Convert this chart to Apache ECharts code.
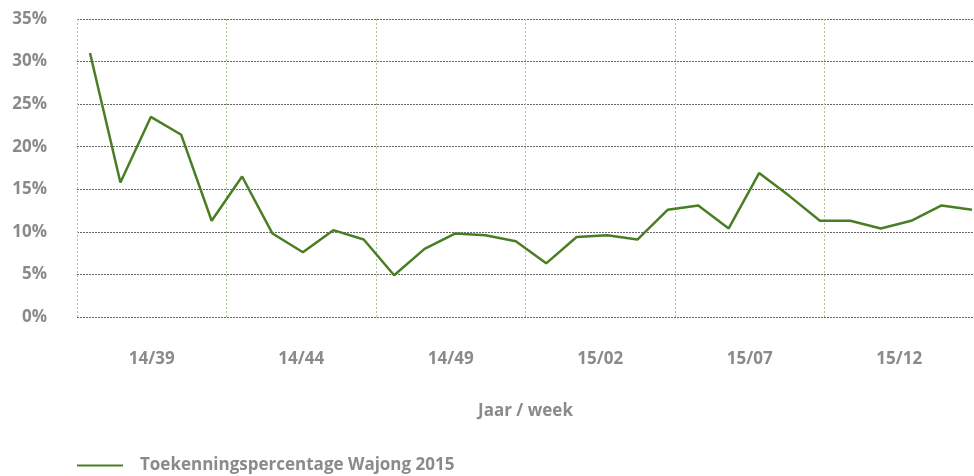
<!DOCTYPE html>
<html>
<head>
<meta charset="utf-8">
<title>Toekenningspercentage Wajong 2015</title>
<script src="https://cdn.jsdelivr.net/npm/echarts@6/dist/echarts.min.js"></script>
<style>
    html, body { margin: 0; padding: 0; background: #fff; }
    #line { width: 974px; height: 476px; }
</style>
</head>
<body>
<div id="line"></div>
<script>
// weken 14/37 t/m 15/14
const weeks = ['14/37','14/38','14/39','14/40','14/41','14/42','14/43','14/44','14/45','14/46',
               '14/47','14/48','14/49','14/50','14/51','14/52','15/01','15/02','15/03','15/04',
               '15/05','15/06','15/07','15/08','15/09','15/10','15/11','15/12','15/13','15/14'];
// toekenningspercentage (%)
const percentage = [31.0, 15.8, 23.5, 21.4, 11.3, 16.5, 9.8, 7.6, 10.2, 9.1,
                    4.9, 8.0, 9.8, 9.6, 8.9, 6.3, 9.4, 9.6, 9.1, 12.6,
                    13.1, 10.4, 16.9, 14.2, 11.3, 11.3, 10.4, 11.3, 13.1, 12.6];
const yTicks = [0, 5, 10, 15, 20, 25, 30, 35];

const grey = '#8a8a8a';
const labelFont = {
    color: grey,
    fontFamily: '"Open Sans", sans-serif',
    fontWeight: 'bold',
    fontSize: 17
};

const myChart = echarts.init(document.getElementById('line'));

let option = {
    animation: false,
    // grid 0: assen en rasterlijnen, grid 1: de lijn zelf
    grid: [
        { left: 77, right: 0, top: 19, bottom: 159 },
        { left: 90, right: 2, top: 19, bottom: 159 }
    ],
    legend: {
        left: 72,
        top: 452,
        icon: 'rect',
        itemWidth: 46,
        itemHeight: 2,
        textStyle: Object.assign({}, labelFont, { padding: [0, 0, 8, 12] }),
        data: ['Toekenningspercentage Wajong 2015']
    },
    xAxis: [{
        gridIndex: 0,
        type: 'category',
        boundaryGap: true,
        data: weeks,
        name: 'Jaar / week',
        nameLocation: 'middle',
        nameGap: 86,
        nameTextStyle: labelFont,
        axisLine: { show: false },
        axisTick: { show: false },
        axisLabel: Object.assign({}, labelFont, {
            margin: 34,
            interval: (i) => i % 5 === 2
        }),
        splitLine: {
            show: true,
            interval: (i) => i % 5 === 0,
            lineStyle: { color: '#a9c98f', width: 1, type: [2, 2] }
        }
    }, {
        gridIndex: 1,
        type: 'category',
        boundaryGap: false,
        data: weeks,
        show: false
    }],
    yAxis: [{
        gridIndex: 0,
        type: 'value',
        min: yTicks[0],
        max: yTicks[yTicks.length - 1],
        interval: 5,
        axisLine: { show: false },
        axisTick: { show: false },
        axisLabel: Object.assign({}, labelFont, {
            margin: 30,
            formatter: '{value}%'
        }),
        splitLine: {
            show: true,
            lineStyle: { color: '#666', width: 1, type: [2, 1] }
        }
    }, {
        gridIndex: 1,
        type: 'value',
        min: yTicks[0],
        max: yTicks[yTicks.length - 1],
        show: false
    }],
    series: [{
        name: 'Toekenningspercentage Wajong 2015',
        type: 'line',
        xAxisIndex: 1,
        yAxisIndex: 1,
        symbol: 'none',
        itemStyle: { color: '#4a7e24' },
        lineStyle: { color: '#4a7e24', width: 2.5 },
        data: percentage
    }]
};

myChart.setOption(option, true);
</script>
</body>
</html>
